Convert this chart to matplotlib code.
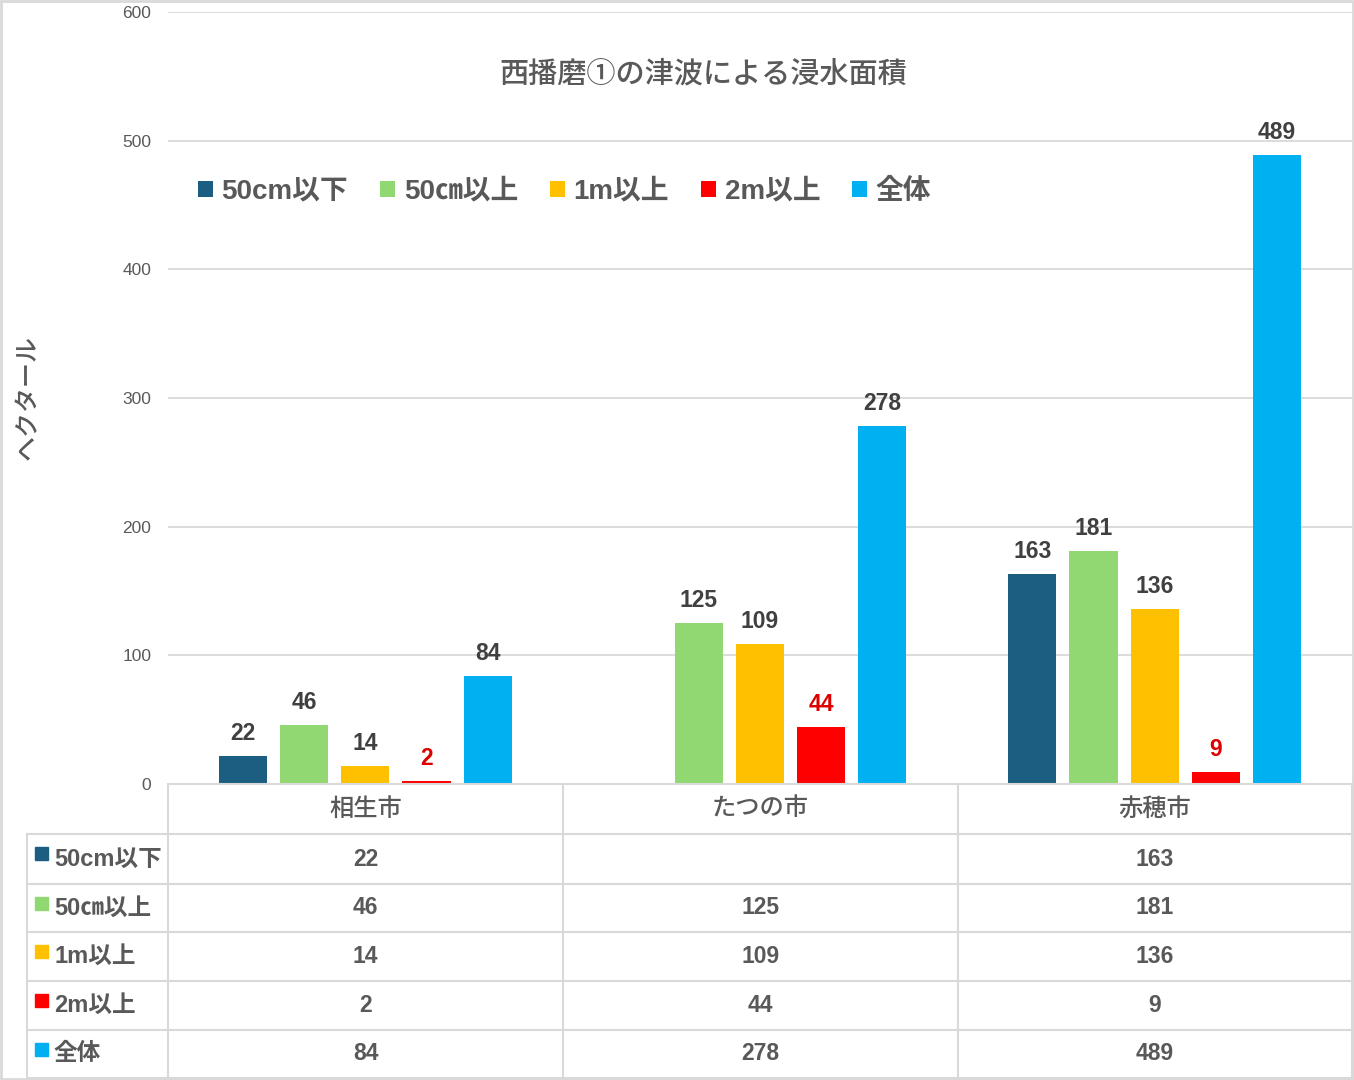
import numpy as np
import matplotlib
matplotlib.use("Agg")
import matplotlib.pyplot as plt
from matplotlib.patches import Rectangle
from matplotlib.lines import Line2D

plt.rcParams['font.family'] = ['Liberation Sans', 'Noto Sans CJK JP', 'DejaVu Sans']

TITLE = "西播磨①の津波による浸水面積"
Y_LABEL = "ヘクタール"
CITIES = ["相生市", "たつの市", "赤穂市"]
SERIES = ["50cm以下", "50㎝以上", "1m以上", "2m以上", "全体"]
COLORS = ["#1b5e82", "#92d872", "#ffc000", "#ff0000", "#00b0f0"]
VALUES_50CM_UNDER = [22, None, 163]
VALUES_50CM_OVER = [46, 125, 181]
VALUES_1M_OVER = [14, 109, 136]
VALUES_2M_OVER = [2, 44, 9]
VALUES_TOTAL = [84, 278, 489]
ALL_VALUES = [VALUES_50CM_UNDER, VALUES_50CM_OVER, VALUES_1M_OVER,
              VALUES_2M_OVER, VALUES_TOTAL]
Y_TICKS = [0, 100, 200, 300, 400, 500, 600]

W, H = 1354, 1080
TEXT_GRAY = "#595959"
LABEL_GRAY = "#404040"
LABEL_RED = "#dd0000"
GRID = "#d9d9d9"


def fx(px):
    return px / W


def fy(py):
    return 1 - py / H


fig = plt.figure(figsize=(W / 100, H / 100), dpi=100)
ax = fig.add_axes([fx(168), fy(784), fx(1352) - fx(168), fy(12) - fy(784)])

x = np.arange(len(CITIES))
step = 0.155
width = 0.122
for i, (name, vals, col) in enumerate(zip(SERIES, ALL_VALUES, COLORS)):
    xs = x + (i - 2) * step
    hv = [v if v is not None else 0 for v in vals]
    bars = ax.bar(xs, hv, width=width, color=col, label=name, zorder=3)
    for b, v in zip(bars, vals):
        if v is None:
            continue
        ax.annotate(str(v), (b.get_x() + b.get_width() / 2, v),
                    xytext=(0, 8), textcoords="offset points",
                    ha="center", va="bottom", fontsize=16.5, fontweight="bold",
                    color=LABEL_RED if name == "2m以上" else LABEL_GRAY)

ax.set_xlim(-0.5, 2.5)
ax.set_ylim(0, 600)
ax.set_yticks(Y_TICKS)
ax.set_yticklabels([str(t) for t in Y_TICKS], fontsize=12.5, color=TEXT_GRAY)
ax.tick_params(axis="y", length=0, pad=12)
ax.set_xticks([])
ax.grid(axis="y", color=GRID, linewidth=1.3, zorder=0)
for s in ax.spines.values():
    s.set_visible(False)

ax.legend(loc="center", bbox_to_anchor=(0.335, 0.767), ncol=5, frameon=False,
          prop={"size": 20, "weight": "bold"}, labelcolor=TEXT_GRAY,
          handlelength=0.55, handleheight=0.55, handletextpad=0.3,
          columnspacing=1.15)

fig.text(fx(703), fy(74), TITLE, ha="center", va="center", fontsize=21,
         fontweight="medium", color=TEXT_GRAY)
fig.text(fx(28), fy(398), Y_LABEL, ha="center", va="center", rotation=90,
         fontsize=18, fontweight="medium", color=TEXT_GRAY)

# data table below the axes
col_edges = [168, 563, 958, 1352]
row_edges = [784, 834, 884, 932, 981, 1030, 1078]
left_edge = 27


def hline(y, x0, x1):
    fig.add_artist(Line2D([fx(x0), fx(x1)], [fy(y), fy(y)], color=GRID,
                          linewidth=1.5))


def vline(xp, y0, y1):
    fig.add_artist(Line2D([fx(xp), fx(xp)], [fy(y0), fy(y1)], color=GRID,
                          linewidth=1.5))


hline(row_edges[0], col_edges[0], col_edges[-1])
for ry in row_edges[1:]:
    hline(ry, left_edge, col_edges[-1])
vline(left_edge, row_edges[1], row_edges[-1])
for cx in col_edges:
    vline(cx, row_edges[0], row_edges[-1])

for j, city in enumerate(CITIES):
    cxm = (col_edges[j] + col_edges[j + 1]) / 2
    fig.text(fx(cxm), fy((row_edges[0] + row_edges[1]) / 2), city,
             ha="center", va="center", fontsize=17.5, fontweight="medium",
             color=TEXT_GRAY)

for i, (name, vals, col) in enumerate(zip(SERIES, ALL_VALUES, COLORS)):
    ry0, ry1 = row_edges[i + 1], row_edges[i + 2]
    rym = (ry0 + ry1) / 2
    fig.add_artist(Rectangle((fx(35), fy(ry0 + 26)), fx(13), fy(0) - fy(13),
                             color=col, transform=fig.transFigure))
    fig.text(fx(54), fy(rym), name, ha="left", va="center", fontsize=17,
             fontweight="bold", color=TEXT_GRAY)
    for j, v in enumerate(vals):
        if v is None:
            continue
        cxm = (col_edges[j] + col_edges[j + 1]) / 2
        fig.text(fx(cxm), fy(rym), str(v), ha="center", va="center",
                 fontsize=16.5, fontweight="bold", color=TEXT_GRAY)

# outer frame of the chart
fig.add_artist(Rectangle((0.001, 0.001), 0.998, 0.998, fill=False,
                         edgecolor=GRID, linewidth=2,
                         transform=fig.transFigure))

fig.savefig("out.png", dpi=100)
